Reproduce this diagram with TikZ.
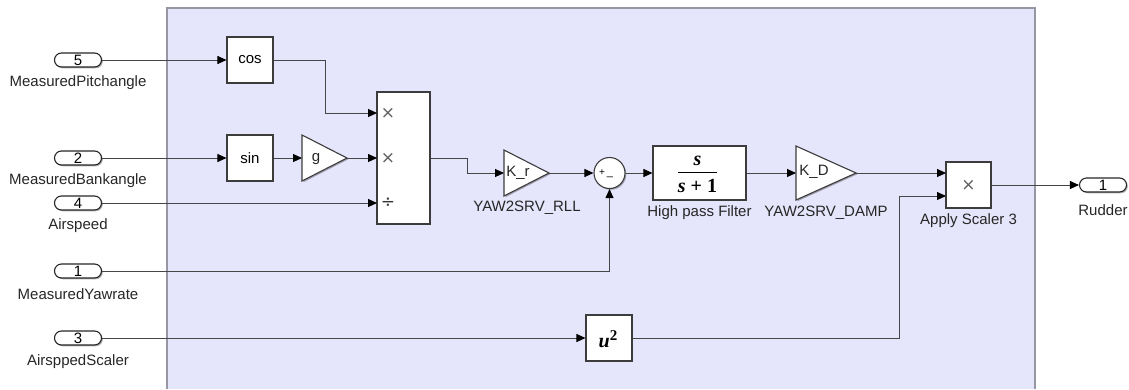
\documentclass[tikz,border=0pt]{standalone}
\usepackage{fontspec}
\setmainfont{Liberation Sans}
\newfontfamily\serifb{Liberation Serif}
\newfontfamily\dejavu{DejaVu Sans}
\usetikzlibrary{arrows.meta,shadows}
\definecolor{bgfill}{RGB}{229,229,251}
\definecolor{bgline}{RGB}{150,150,165}
\definecolor{blkline}{RGB}{60,60,60}
\definecolor{wire}{RGB}{70,70,70}
\definecolor{symcol}{RGB}{95,95,95}
\begin{document}
\begin{tikzpicture}[x=1pt,y=-1pt,
  font=\fontsize{15}{17}\selectfont,
  shad/.style={drop shadow={shadow xshift=1.3pt,shadow yshift=-1.3pt,opacity=0.3,fill=black}},
  blk/.style={draw=blkline,fill=white,line width=1.1pt,inner sep=0pt,shad},
  tri/.style={draw=blkline,fill=white,line width=1.1pt,line join=miter,shad},
  port/.style={draw=black!85,fill=white,rounded corners=7pt,minimum width=47pt,minimum height=14pt,inner sep=0pt,line width=1.1pt,shad},
  lbl/.style={inner sep=0pt,text=black!85},
  sym/.style={inner sep=0pt,text=symcol,font=\fontsize{17}{17}\selectfont\dejavu},
  conn/.style={draw=wire,line width=0.9pt,-{Triangle[length=9pt,width=8pt,color=black,fill=black]}}
]
\useasboundingbox (0,0) rectangle (1129,389);
% subsystem background
\fill[bgfill] (167,8) rectangle (1035,389);
\draw[bgline,line width=1.6pt] (167,389) -- (167,8) -- (1035,8) -- (1035,389);

% inports
\node[port] (p5) at (78,60) {5};
\node[lbl] (p5l) at (78,83) {MeasuredPitchangle};
\node[port] (p2) at (78,158) {2};
\node[lbl] (p2l) at (78,181) {MeasuredBankangle};
\node[port] (p4) at (78,203) {4};
\node[lbl] (p4l) at (78,226) {Airspeed};
\node[port] (p1) at (78,271) {1};
\node[lbl] (p1l) at (78,294) {MeasuredYawrate};
\node[port] (p3) at (78,338) {3};
\node[lbl] (p3l) at (78,362) {AirsppedScaler};

% blocks
\node[blk,minimum width=46pt,minimum height=46pt] (cos) at (250,60) {cos};
\node[blk,minimum width=46pt,minimum height=46pt] (sin) at (250,158) {sin};

\filldraw[tri] (302,135) -- (347,158) -- (302,181) -- cycle;
\coordinate (gin) at (302,158);
\coordinate (gout) at (347,158);
\node[lbl] (gt) at (316,159) {g};

\node[blk,minimum width=53pt,minimum height=132pt] (prod) at (403.5,158) {};
\node[sym] (x1) at (388,113) {×};
\node[sym] (x2) at (388,158) {×};
\node[sym,text=black!80] (x3) at (388,203) {÷};
\coordinate (prin1) at (377,113);
\coordinate (prin2) at (377,158);
\coordinate (prin3) at (377,203);

\filldraw[tri] (504,150) -- (549,173) -- (504,196) -- cycle;
\coordinate (krin) at (504,173);
\coordinate (krout) at (549,173);
\node[lbl] (krt) at (518,173) {K\_r};
\node[lbl] (krl) at (527,208) {YAW2SRV\_RLL};

\node[blk,circle,minimum size=31pt] (sum) at (609.5,173) {};
\node[lbl,text=black,font=\fontsize{10}{10}\selectfont] (plus) at (602,173) {+};
\node[lbl,text=black,font=\fontsize{11}{11}\selectfont] (minus) at (610,177) {\_};

\node[blk,minimum width=93pt,minimum height=54pt] (hpf) at (699.5,173) {};
\node[lbl,text=black,font=\fontsize{20}{22}\selectfont\serifb\bfseries\itshape] (num) at (697.5,161) {s};
\draw[black,line width=1.2pt] (678,172.5) -- (717,172.5);
\node[lbl,text=black,font=\fontsize{20}{22}\selectfont\serifb\bfseries] (den) at (697.5,186) {\textit{s} + 1};
\node[lbl] (hpfl) at (699.5,213) {High pass Filter};

\filldraw[tri] (796,146) -- (856,173) -- (796,200) -- cycle;
\coordinate (kdin) at (796,173);
\coordinate (kdout) at (856,173);
\node[lbl] (kdt) at (814,172) {K\_D};
\node[lbl] (kdl) at (826,213) {YAW2SRV\_DAMP};

\node[blk,minimum width=45pt,minimum height=46pt] (aps) at (968.5,185) {};
\node[sym] (ax) at (968.5,185) {×};
\coordinate (apin1) at (946,173);
\coordinate (apin2) at (946,196);
\node[lbl] (apl) at (968.5,221) {Apply Scaler 3};

\node[blk,minimum width=46pt,minimum height=46pt] (u2) at (609,338) {};
\node[lbl,text=black,font=\fontsize{20}{20}\selectfont\serifb\bfseries] (u2t) at (608,339) {\textit{u}\raisebox{7pt}{\fontsize{15}{15}\selectfont 2}};

% outport
\node[port] (rud) at (1103,185) {1};
\node[lbl] (rudl) at (1103,210) {Rudder};

% connectors
\draw[conn] (p5.east) -- (cos.west);
\draw[conn] (cos.east) -- (325,60) -- (325,113) -- (prin1);
\draw[conn] (p2.east) -- (sin.west);
\draw[conn] (sin.east) -- (gin);
\draw[conn] (gout) -- (prin2);
\draw[conn] (p4.east) -- (prin3);
\draw[conn] (prod.east) -- (467,158) -- (467,173) -- (krin);
\draw[conn] (krout) -- (sum.west);
\draw[conn] (p1.east) -- (609.5,271) -- (sum.south);
\draw[conn] (sum.east) -- (hpf.west);
\draw[conn] (hpf.east) -- (kdin);
\draw[conn] (kdout) -- (apin1);
\draw[conn] (p3.east) -- (u2.west);
\draw[conn] (u2.east) -- (899,338) -- (899,196) -- (apin2);
\draw[conn] (aps.east) -- (rud.west);
\end{tikzpicture}
\end{document}
